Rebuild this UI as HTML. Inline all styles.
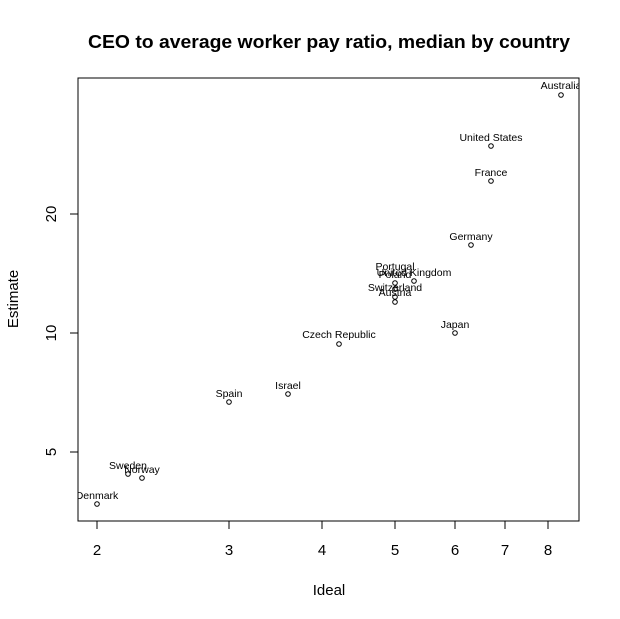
<!DOCTYPE html>
<html><head><style>body{margin:0;background:#fff}svg{display:block}</style></head><body>
<svg width="620" height="619" xmlns="http://www.w3.org/2000/svg" font-family="Liberation Sans, Arial, sans-serif">
<defs><clipPath id="c"><rect x="78" y="78" width="501" height="443"/></clipPath></defs>
<rect width="620" height="619" fill="#fff"/>
<text x="88" y="48" font-weight="bold" font-size="18" textLength="482" lengthAdjust="spacingAndGlyphs">CEO to average worker pay ratio, median by country</text>
<rect x="78" y="78" width="501" height="443" fill="none" stroke="#000"/>
<g stroke="#000">
<line x1="97" y1="521" x2="97" y2="529"/><line x1="229" y1="521" x2="229" y2="529"/><line x1="322" y1="521" x2="322" y2="529"/><line x1="395" y1="521" x2="395" y2="529"/><line x1="455" y1="521" x2="455" y2="529"/><line x1="505" y1="521" x2="505" y2="529"/><line x1="548" y1="521" x2="548" y2="529"/>
<line x1="70" y1="452" x2="78" y2="452"/><line x1="70" y1="333" x2="78" y2="333"/><line x1="70" y1="214" x2="78" y2="214"/>
</g>
<g font-size="15" text-anchor="middle">
<text x="97" y="555">2</text><text x="229" y="555">3</text><text x="322" y="555">4</text><text x="395" y="555">5</text><text x="455" y="555">6</text><text x="505" y="555">7</text><text x="548" y="555">8</text>
<text transform="translate(56,452) rotate(-90)">5</text>
<text transform="translate(56,333) rotate(-90)">10</text>
<text transform="translate(56,214) rotate(-90)">20</text>
<text x="329" y="595">Ideal</text>
<text transform="translate(18,299) rotate(-90)">Estimate</text>
</g>
<g fill="none" stroke="#000" stroke-width="1">
<circle cx="561" cy="95" r="2.3"/><circle cx="491" cy="146" r="2.3"/><circle cx="491" cy="181" r="2.3"/><circle cx="471" cy="245" r="2.3"/>
<circle cx="395" cy="283" r="2.3"/><circle cx="414" cy="281" r="2.3"/><circle cx="395" cy="289" r="2.3"/><circle cx="395" cy="297" r="2.3"/><circle cx="395" cy="302" r="2.3"/>
<circle cx="455" cy="333" r="2.3"/><circle cx="339" cy="344" r="2.3"/><circle cx="288" cy="394" r="2.3"/><circle cx="229" cy="402" r="2.3"/>
<circle cx="128" cy="474" r="2.3"/><circle cx="142" cy="478" r="2.3"/><circle cx="97" cy="504" r="2.3"/>
</g>
<g font-size="10.5" text-anchor="middle" clip-path="url(#c)">
<text x="561" y="89">Australia</text><text x="491" y="141">United States</text><text x="491" y="176">France</text><text x="471" y="240">Germany</text>
<text x="395" y="270">Portugal</text><text x="414" y="276">United Kingdom</text><text x="395" y="278">Poland</text><text x="395" y="291">Switzerland</text><text x="395" y="296">Austria</text>
<text x="455" y="328">Japan</text><text x="339" y="338">Czech Republic</text><text x="288" y="389">Israel</text><text x="229" y="397">Spain</text>
<text x="128" y="469">Sweden</text><text x="142" y="473">Norway</text><text x="97" y="499">Denmark</text>
</g>
</svg>
</body></html>
